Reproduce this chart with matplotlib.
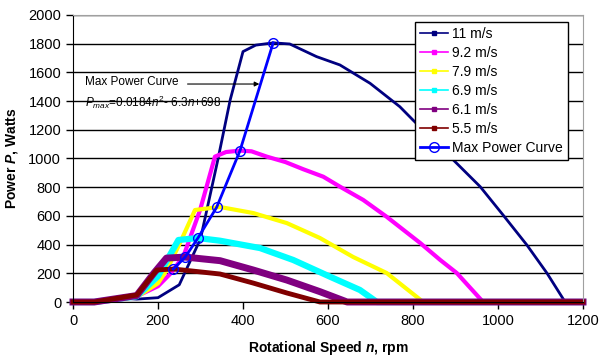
import numpy as np
import matplotlib.pyplot as plt
from matplotlib.lines import Line2D

plt.rcParams['font.family'] = ['Liberation Sans', 'DejaVu Sans']
plt.rcParams['mathtext.fontset'] = 'custom'
plt.rcParams['mathtext.rm'] = 'Liberation Sans'
plt.rcParams['mathtext.it'] = 'Liberation Sans:italic'
plt.rcParams['mathtext.bf'] = 'Liberation Sans:bold'
plt.rcParams['mathtext.bfit'] = 'Liberation Sans:italic:bold'

# wind speed curves: rpm, watts
n_11 = [0, 50, 80, 125, 150, 200, 250, 300, 340, 370, 400, 430, 471, 510, 573, 628, 699, 769, 800, 887, 958, 1012, 1068, 1115, 1155, 1165, 1200]
p_11 = [0, 0, 25, 25, 20, 30, 120, 440, 980, 1410, 1745, 1790, 1806, 1798, 1710, 1652, 1524, 1361, 1268, 1013, 804, 606, 397, 202, 14, 0, 0]
n_92 = [0, 60, 100, 150, 200, 230, 260, 299, 334, 360, 393, 420, 456, 500, 542, 589, 628, 683, 738, 817, 864, 903, 965, 1200]
p_92 = [0, 0, 10, 40, 110, 200, 320, 641, 1013, 1045, 1055, 1050, 1013, 975, 925, 873, 804, 711, 594, 411, 293, 202, 0, 0]
n_79 = [0, 60, 150, 200, 220, 250, 287, 338, 346, 424, 503, 581, 659, 738, 824, 1200]
p_79 = [0, 0, 35, 130, 220, 400, 641, 660, 662, 620, 550, 446, 314, 202, 0, 0]
n_69 = [0, 50, 150, 200, 248, 294, 346, 440, 518, 605, 675, 715, 1200]
p_69 = [0, 0, 40, 180, 432, 446, 427, 376, 293, 176, 84, 0, 0]
n_61 = [0, 50, 150, 190, 220, 264, 346, 424, 503, 581, 645, 1200]
p_61 = [0, 0, 45, 200, 306, 313, 288, 223, 153, 72, 0, 0]
n_55 = [0, 50, 150, 197, 236, 346, 424, 503, 581, 1200]
p_55 = [0, 0, 49, 223, 230, 195, 132, 63, 0, 0]

# max power points
n_max = [236, 264, 294, 338, 393, 471]
p_max = [230, 313, 446, 660, 1055, 1806]

labels = ['11 m/s', '9.2 m/s', '7.9 m/s', '6.9 m/s', '6.1 m/s', '5.5 m/s']
colors = ['#000080', '#ff00ff', '#ffff00', '#00ffff', '#800080', '#800000']
widths = [2, 3, 3, 4.5, 5, 3.5]
series = [(n_11, p_11), (n_92, p_92), (n_79, p_79), (n_69, p_69), (n_61, p_61), (n_55, p_55)]

fig = plt.figure(figsize=(6.01, 3.58), dpi=100)
ax = fig.add_axes([73 / 601, 1 - 302 / 358, 510 / 601, 287 / 358])

for (n, p), c, w in zip(series, colors, widths):
    ax.plot(n, p, color=c, lw=w, solid_joinstyle='round', clip_on=False)
ax.plot(n_max, p_max, color='#0000ff', lw=2, marker='o', ms=7, mfc='none', mec='#0000ff', mew=1)

ax.set_xlim(0, 1200)
ax.set_ylim(0, 2000)
ax.set_xticks(range(0, 1201, 200))
ax.set_yticks(range(0, 2001, 200))
ax.yaxis.grid(True, color='black', lw=1)
ax.set_axisbelow(True)
ax.tick_params(direction='out', length=5, labelsize=10.5, width=1)
for s in ['top', 'right']:
    ax.spines[s].set_color('#a0a0a0')
ax.set_xlabel(r'Rotational Speed $\mathbfit{n}$, rpm', fontsize=10, fontweight='bold', labelpad=8)
ax.set_ylabel(r'Power $\mathbfit{P}$, Watts', fontsize=10, fontweight='bold', labelpad=6)

ax.text(28, 1510, 'Max Power Curve', fontsize=8.5)
ax.annotate('', xy=(445, 1519), xytext=(263, 1519),
            arrowprops=dict(arrowstyle='-|>', color='black', lw=0.8, mutation_scale=7))
ax.text(28, 1360, r'$P_{max}$=0.0184$n^2$- 6.3$n$+698', fontsize=8.5)

handles = [Line2D([], [], color=c, lw=1.2, marker='s', ms=2.5) for c in colors]
handles.append(Line2D([], [], color='#0000ff', lw=2, marker='o', ms=7, mfc='none', mec='#0000ff', mew=1))
leg = ax.legend(handles, labels + ['Max Power Curve'], loc='upper left',
                bbox_to_anchor=(415 / 601, 1 - 22 / 358), bbox_transform=fig.transFigure,
                borderaxespad=0, fontsize=10, frameon=True, fancybox=False, edgecolor='black',
                framealpha=1, handlelength=2.0, handletextpad=0.35, labelspacing=0.36,
                borderpad=0.35)
leg.get_frame().set_linewidth(1)

fig.savefig('out.png', dpi=100)
